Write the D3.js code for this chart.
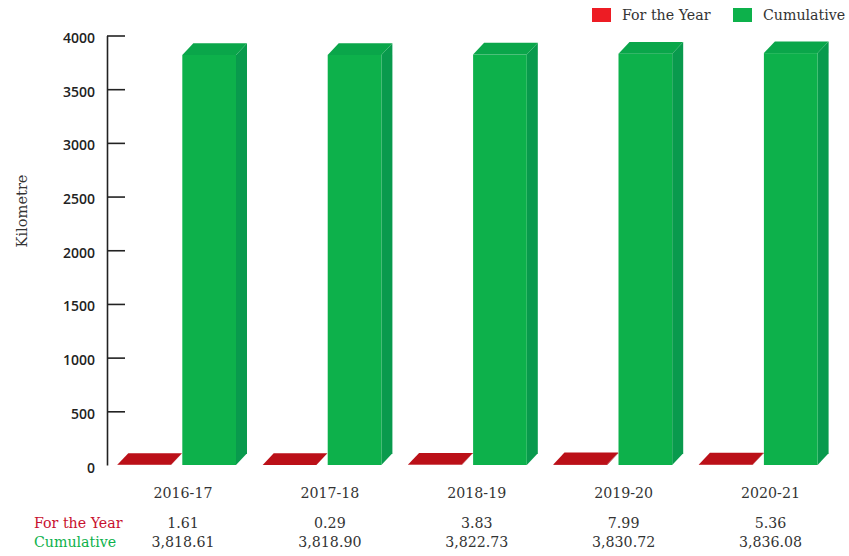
<!DOCTYPE html>
<html>
<head>
<meta charset="utf-8">
<script src="https://cdn.jsdelivr.net/npm/d3@7"></script>
<style>
  html, body { margin: 0; padding: 0; background: #fff; }
  svg { display: block; }
  text { font-family: "DejaVu Serif", serif; font-size: 14.2px; fill: #333; }
</style>
</head>
<body>
<script>
const years = ["2016-17", "2017-18", "2018-19", "2019-20", "2020-21"]
const forYear = [1.61, 0.29, 3.83, 7.99, 5.36]
const cumulative = [3818.61, 3818.90, 3822.73, 3830.72, 3836.08]
const seriesNames = ["For the Year", "Cumulative"]
const yTicks = [0, 500, 1000, 1500, 2000, 2500, 3000, 3500, 4000]

const w = 849
const h = 556
const depthX = 11
const depthY = 11.7

// front, top and side colours of the boxes
const colors = {
  "For the Year": { front: "#bb1018", top: "#bb1018", side: "#96101a", label: "#c8102e", legend: "#ed1c24" },
  "Cumulative": { front: "#0db14b", top: "#0aa64a", side: "#099a4d", label: "#0db14b", legend: "#0db14b" }
}

const svg = d3.select("body").append("svg")
  .attr("width", w)
  .attr("height", h)

const yScale = d3.scaleLinear().domain([0, 4000]).range([465, 35.5])
const xGroup = d3.scaleBand().domain(years).range([117.3, 817.6]).paddingInner(0.1836)
const xInner = d3.scaleBand().domain(seriesNames).range([0, xGroup.bandwidth()]).paddingInner(0.174)
const xTable = d3.scalePoint().domain(years).range([183, 770.5])

const rows = seriesNames.flatMap(name => years.map((year, i) => ({
  name, year, value: name === "Cumulative" ? cumulative[i] : forYear[i]
})))

const boxes = svg.selectAll("g.box")
  .data(rows)
  .enter()
  .append("g")
  .attr("class", "box")

const left = d => xGroup(d.year) + xInner(d.name)
const right = d => left(d) + xInner.bandwidth()
const pts = a => a.map(p => p.join(",")).join(" ")

boxes.append("polygon")
  .attr("points", d => pts([[right(d), yScale(d.value)], [right(d) + depthX, yScale(d.value) - depthY], [right(d) + depthX, yScale(0) - depthY], [right(d), yScale(0)]]))
  .attr("fill", d => colors[d.name].side)
boxes.append("rect")
  .attr("x", left)
  .attr("y", d => yScale(d.value))
  .attr("width", xInner.bandwidth())
  .attr("height", d => yScale(0) - yScale(d.value))
  .attr("fill", d => colors[d.name].front)
boxes.append("polygon")
  .attr("points", d => pts([[left(d), yScale(d.value)], [left(d) + depthX, yScale(d.value) - depthY], [right(d) + depthX, yScale(d.value) - depthY], [right(d), yScale(d.value)]]))
  .attr("fill", d => colors[d.name].top)

// y axis, ticks point into the plot, none at zero
const yAxis = d3.axisLeft(yScale).tickValues(yTicks).tickFormat(d3.format("d")).tickSize(-18).tickSizeOuter(0).tickPadding(12)
const axisG = svg.append("g")
  .attr("transform", "translate(107,0)")
  .call(yAxis)
axisG.selectAll("path, line").attr("stroke", "#222").attr("stroke-width", 1.6)
axisG.selectAll(".tick").filter(d => d === 0).select("line").remove()
axisG.selectAll("text")
  .attr("dy", "0.5em")
  .style("font-family", "'Open Sans', sans-serif")
  .style("font-size", "14px")
  .style("font-weight", "600")
  .style("fill", "#222")

svg.append("text")
  .attr("transform", "translate(27,211) rotate(-90)")
  .attr("text-anchor", "middle")
  .style("font-size", "14.6px")
  .text("Kilometre")

// table under the plot
svg.selectAll("text.year")
  .data(years)
  .enter()
  .append("text")
  .attr("class", "year")
  .attr("x", d => xTable(d))
  .attr("y", 498)
  .attr("text-anchor", "middle")
  .text(d => d)

svg.selectAll("text.v1")
  .data(forYear)
  .enter()
  .append("text")
  .attr("class", "v1")
  .attr("x", (d, i) => xTable(years[i]))
  .attr("y", 528)
  .attr("text-anchor", "middle")
  .text(d => d3.format(".2f")(d))

svg.selectAll("text.v2")
  .data(cumulative)
  .enter()
  .append("text")
  .attr("class", "v2")
  .attr("x", (d, i) => xTable(years[i]))
  .attr("y", 547)
  .attr("text-anchor", "middle")
  .text(d => d3.format(",.2f")(d))

svg.selectAll("text.rowname")
  .data(seriesNames)
  .enter()
  .append("text")
  .attr("class", "rowname")
  .attr("x", 34)
  .attr("y", (d, i) => 528 + i * 19)
  .style("fill", d => colors[d].label)
  .text(d => d)

// legend
const legendX = d3.scaleOrdinal().domain(seriesNames).range([592, 733])
const legend = svg.selectAll("g.legend")
  .data(seriesNames)
  .enter()
  .append("g")
  .attr("class", "legend")
  .attr("transform", d => `translate(${legendX(d)},8)`)
legend.append("rect")
  .attr("width", 19)
  .attr("height", 14)
  .attr("fill", d => colors[d].legend)
legend.append("text")
  .attr("x", 30)
  .attr("y", 12)
  .text(d => d)
</script>
</body>
</html>
